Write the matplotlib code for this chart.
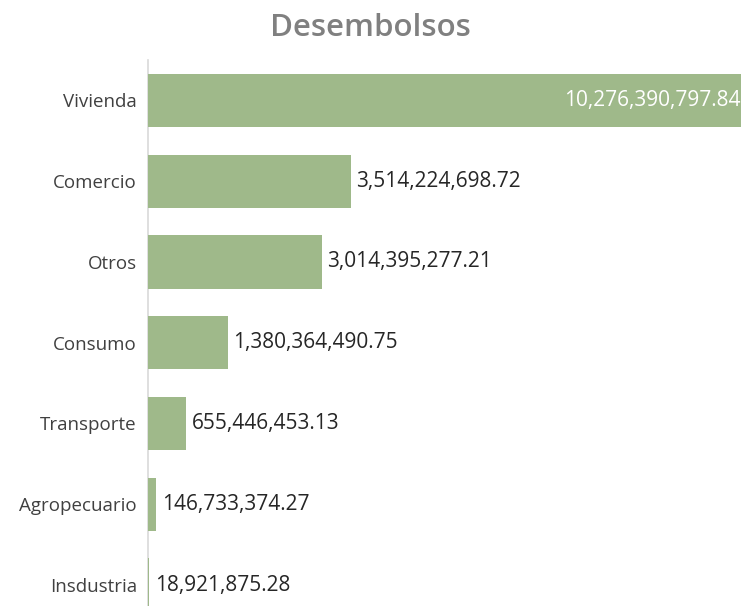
import matplotlib.pyplot as plt

categories = ["Vivienda", "Comercio", "Otros", "Consumo", "Transporte", "Agropecuario", "Insdustria"]
values = [10276390797.84, 3514224698.72, 3014395277.21, 1380364490.75,
          655446453.13, 146733374.27, 18921875.28]

bar_color = "#9fb98a"

fig = plt.figure(figsize=(7.41, 6.06), dpi=100)
ax = fig.add_axes([148 / 741, 0.0, 1 - 148 / 741, (606 - 60) / 606])

y = list(range(len(categories)))
ax.barh(y, values, height=0.66, color=bar_color, zorder=3)
ax.set_ylim(6.26, -0.5)
ax.set_xlim(0, max(values))

ax.set_yticks(y)
ax.set_yticklabels(categories, fontsize=13.5, color="#404040", family="Open Sans")
ax.tick_params(axis="y", length=0, pad=8)
ax.set_xticks([])
for s in ["top", "right", "bottom"]:
    ax.spines[s].set_visible(False)
ax.spines["left"].set_color("#d9d9d9")
ax.spines["left"].set_linewidth(1.2)

for i, v in enumerate(values):
    txt = f"{v:,.2f}"
    if i == 0:
        ax.text(v, i, txt, ha="right", va="center", color="white",
                fontsize=15, family="Open Sans", zorder=4)
    else:
        ax.annotate(txt, (v, i), xytext=(4, 0), textcoords="offset points",
                    ha="left", va="center", color="#262626",
                    fontsize=15, family="Open Sans")

fig.text(0.5, 0.953, "Desembolsos", ha="center", va="center",
         fontsize=22.5, color="#808080", fontweight="semibold", family="Open Sans")

fig.savefig("out.png", dpi=100)
